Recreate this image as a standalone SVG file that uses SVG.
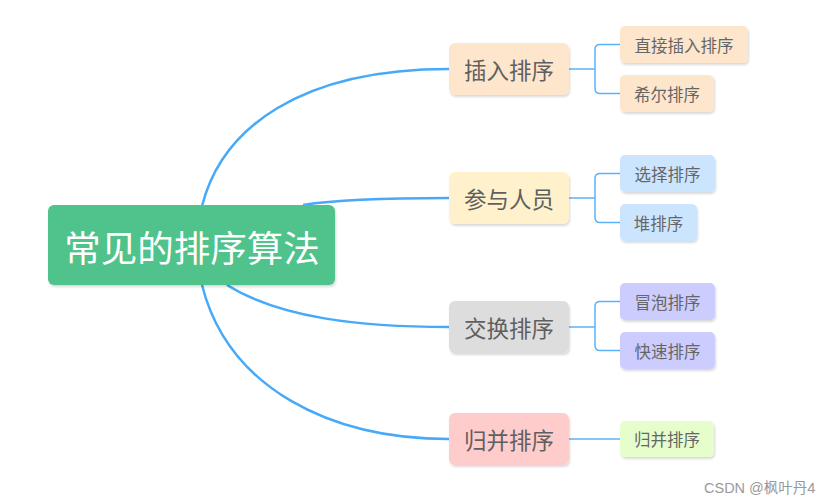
<svg xmlns="http://www.w3.org/2000/svg" width="838" height="504" viewBox="0 0 838 504">
<defs>
<filter id="sh" x="-10%" y="-10%" width="125%" height="140%">
<feDropShadow dx="1" dy="2" stdDeviation="1" flood-color="#000" flood-opacity="0.15"/>
</filter>
</defs>
<style>
text{font-family:"Noto Sans CJK SC","Noto Sans",sans-serif;text-anchor:middle;dominant-baseline:central}
.root text{fill:#fff;font-size:36.5px}
.l1 text{fill:#5f5f5f;font-size:22.5px}
.l2 text{fill:#666;font-size:16.5px}
rect{filter:url(#sh)}
.main{fill:none;stroke:#47a9f8;stroke-width:2.5}
.sub{fill:none;stroke:#5cb2fa;stroke-width:1.5}
.wm{font-family:"Liberation Sans","Noto Sans CJK SC",sans-serif;font-size:14.5px;fill:#999;text-anchor:start;dominant-baseline:auto}
</style>
<rect width="838" height="504" fill="#fff" style="filter:none"/>
<g id="connectors">
<path class="main" d="M202,206 C222,128 300,69 449,69"/>
<path class="main" d="M303,205 C340,199 400,198 449,198"/>
<path class="main" d="M227,285 C280,318 360,327 449,327"/>
<path class="main" d="M202,285 C228,388 330,439 449,439"/>
<path class="sub" d="M569,69 H595 M620,44.5 H600 Q595,44.5 595,49.5 V88.5 Q595,93.5 600,93.5 H620"/>
<path class="sub" d="M569,198 H595 M620,173.5 H600 Q595,173.5 595,178.5 V217.5 Q595,222.5 600,222.5 H620"/>
<path class="sub" d="M569,327 H595 M620,301.5 H600 Q595,301.5 595,306.5 V345.5 Q595,350.5 600,350.5 H620"/>
<path class="sub" d="M569,439 H620"/>
</g>
<g id="root" class="root">
<rect x="48" y="205" width="287" height="80" rx="6" fill="#4fc38b"/>
<text x="192" y="246">常见的排序算法</text>
</g>
<g id="n1" class="l1">
<rect x="449" y="43" width="120" height="52" rx="6" fill="#fee6cd"/>
<text x="509" y="69">插入排序</text>
</g>
<g id="n2" class="l1">
<rect x="449" y="172" width="120" height="52" rx="6" fill="#fef1cc"/>
<text x="509" y="198">参与人员</text>
</g>
<g id="n3" class="l1">
<rect x="449" y="301" width="120" height="52" rx="6" fill="#dddddd"/>
<text x="509" y="327">交换排序</text>
</g>
<g id="n4" class="l1">
<rect x="449" y="413" width="120" height="52" rx="6" fill="#ffcccc"/>
<text x="509" y="439">归并排序</text>
</g>
<g id="n11" class="l2">
<rect x="620" y="26" width="128" height="37" rx="5" fill="#fee6cd"/>
<text x="684" y="44.5">直接插入排序</text>
</g>
<g id="n12" class="l2">
<rect x="620" y="75" width="94" height="37" rx="5" fill="#fee6cd"/>
<text x="667" y="93.5">希尔排序</text>
</g>
<g id="n21" class="l2">
<rect x="620" y="155" width="95" height="37" rx="5" fill="#cce5fe"/>
<text x="667.5" y="173.5">选择排序</text>
</g>
<g id="n22" class="l2">
<rect x="620" y="204" width="77" height="37" rx="5" fill="#cce5fe"/>
<text x="658.5" y="222.5">堆排序</text>
</g>
<g id="n31" class="l2">
<rect x="620" y="283" width="95" height="37" rx="5" fill="#ccccfe"/>
<text x="667.5" y="301.5">冒泡排序</text>
</g>
<g id="n32" class="l2">
<rect x="620" y="332" width="95" height="37" rx="5" fill="#ccccfe"/>
<text x="667.5" y="350.5">快速排序</text>
</g>
<g id="n41" class="l2">
<rect x="620" y="421" width="94" height="36" rx="5" fill="#e6fecc"/>
<text x="667" y="439">归并排序</text>
</g>
<text class="wm" x="704" y="493">CSDN @枫叶丹4</text>
</svg>
